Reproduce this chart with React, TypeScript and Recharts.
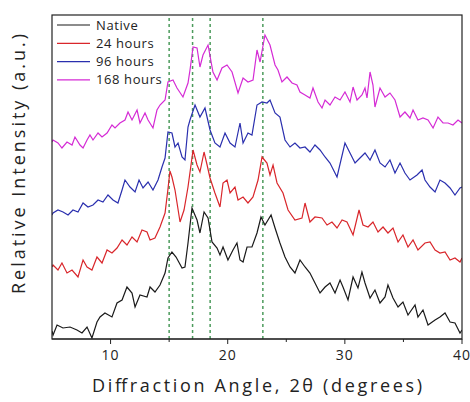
import React from "react";
import { LineChart, Line, XAxis, YAxis, ReferenceLine, Legend } from "recharts";

// [2θ (degrees), relative intensity (a.u., stacked)]
const native: number[][] = [
  [5.0, 8], [5.09, 4], [5.43, 14], [5.94, 11], [6.54, 12], [7.13, 9], [7.56, 6], [7.99, 12], [8.41, 1], [8.84, 17],
  [9.1, 22], [9.52, 26], [10.12, 22], [10.55, 36], [10.98, 39], [11.4, 52], [11.83, 46], [12.09, 32], [12.51, 44],
  [13.11, 42], [13.37, 52], [13.79, 47], [14.22, 54], [14.65, 66], [14.9, 81], [15.24, 87], [15.59, 82], [16.1, 71],
  [16.35, 72], [16.61, 96], [16.95, 131], [17.38, 119], [17.63, 106], [17.98, 127], [18.32, 121], [18.66, 97],
  [19.09, 91], [19.34, 84], [19.6, 92], [20.02, 79], [20.45, 89], [20.79, 96], [21.05, 79], [21.31, 77], [21.65, 92],
  [22.07, 92], [22.5, 106], [22.84, 122], [23.18, 114], [23.7, 124], [24.04, 111], [24.46, 96], [24.89, 82],
  [25.32, 72], [25.74, 66], [26.17, 79], [26.6, 72], [27.02, 66], [27.45, 56], [27.88, 46], [28.31, 52], [28.73, 56],
  [29.16, 46], [29.59, 59], [29.84, 52], [30.27, 39], [30.7, 62], [31.12, 51], [31.46, 67], [31.72, 56], [32.15, 41],
  [32.57, 49], [33.0, 36], [33.43, 42], [33.68, 54], [34.11, 41], [34.54, 32], [34.96, 37], [35.39, 24], [35.99, 34],
  [36.24, 22], [36.67, 29], [37.1, 14], [37.7, 19], [38.12, 22], [38.55, 26], [38.98, 17], [39.4, 16], [39.83, 6],
  [40.0, 9],
];

const hours24: number[][] = [
  [5.0, 72], [5.09, 74], [5.51, 69], [5.85, 76], [6.28, 66], [6.71, 69], [7.22, 62], [7.65, 79], [7.99, 72], [8.41, 69],
  [8.84, 82], [9.27, 76], [9.7, 89], [10.12, 86], [10.55, 91], [10.98, 99], [11.4, 94], [11.83, 102], [12.26, 97],
  [12.68, 109], [13.11, 107], [13.37, 99], [13.79, 101], [14.22, 112], [14.65, 126], [14.9, 150], [15.07, 168],
  [15.24, 162], [15.5, 149], [15.93, 117], [16.27, 129], [16.61, 152], [17.04, 189], [17.38, 174], [17.63, 167],
  [17.98, 187], [18.24, 174], [18.49, 161], [18.91, 146], [19.34, 132], [19.6, 156], [19.94, 159], [20.2, 146],
  [20.62, 152], [20.88, 139], [21.31, 142], [21.73, 136], [22.16, 142], [22.59, 159], [22.93, 182], [23.35, 176],
  [23.61, 164], [23.87, 174], [24.21, 156], [24.72, 146], [25.15, 129], [25.74, 119], [26.34, 121], [26.6, 136],
  [27.02, 117], [27.45, 122], [28.05, 121], [28.48, 114], [28.9, 117], [29.33, 111], [29.76, 119], [30.18, 117],
  [30.7, 104], [31.21, 129], [31.55, 114], [31.98, 112], [32.4, 117], [32.83, 107], [33.26, 112], [33.68, 106],
  [34.11, 111], [34.54, 97], [34.96, 104], [35.39, 92], [35.82, 99], [36.24, 89], [36.84, 96], [37.27, 97],
  [37.7, 89], [38.12, 86], [38.55, 87], [38.98, 79], [39.4, 81], [39.83, 77], [40.0, 81],
];

const hours96: number[][] = [
  [5.0, 124], [5.09, 126], [5.51, 129], [5.94, 127], [6.37, 124], [6.79, 129], [7.22, 127], [7.65, 136], [8.07, 132],
  [8.5, 134], [8.93, 139], [9.35, 137], [9.78, 144], [10.21, 139], [10.63, 136], [10.98, 149], [11.23, 159],
  [11.66, 152], [12.09, 147], [12.43, 159], [12.77, 151], [13.2, 157], [13.62, 149], [14.05, 159], [14.39, 172],
  [14.65, 181], [14.9, 207], [15.24, 206], [15.5, 192], [15.76, 196], [16.1, 182], [16.35, 179], [16.61, 212],
  [16.78, 219], [17.21, 234], [17.63, 222], [18.06, 231], [18.49, 209], [18.91, 196], [19.34, 192], [19.77, 206],
  [20.2, 196], [20.62, 192], [21.05, 216], [21.31, 196], [21.73, 206], [22.07, 204], [22.5, 234], [22.93, 237],
  [23.35, 236], [23.61, 239], [24.04, 226], [24.46, 222], [24.89, 199], [25.32, 192], [25.74, 196], [26.17, 191],
  [26.6, 192], [27.02, 187], [27.45, 194], [27.88, 189], [28.31, 182], [28.73, 176], [29.33, 162], [30.01, 196],
  [30.44, 186], [30.87, 176], [31.29, 181], [31.72, 186], [32.15, 179], [32.57, 189], [33.0, 176], [33.43, 172],
  [33.85, 179], [34.28, 166], [34.71, 176], [35.13, 166], [35.56, 159], [36.16, 164], [36.59, 169], [36.84, 159],
  [37.27, 152], [37.7, 147], [38.12, 159], [38.55, 156], [38.98, 151], [39.4, 144], [39.83, 151], [40.0, 152],
];

const hours168: number[][] = [
  [5.0, 197], [5.09, 199], [5.51, 196], [5.85, 191], [6.28, 197], [6.71, 194], [6.96, 202], [7.39, 194], [7.65, 191],
  [7.99, 199], [8.24, 204], [8.5, 199], [8.93, 206], [9.27, 202], [9.7, 206], [10.12, 214], [10.38, 211], [10.8, 216],
  [11.23, 219], [11.49, 227], [11.83, 219], [12.26, 229], [12.51, 216], [12.94, 226], [13.2, 219], [13.62, 211],
  [13.96, 229], [14.22, 234], [14.65, 239], [14.9, 257], [15.33, 259], [15.67, 251], [16.18, 242], [16.61, 256],
  [16.78, 269], [17.04, 292], [17.38, 291], [17.63, 272], [17.89, 284], [18.32, 294], [18.74, 267], [19.09, 259],
  [19.51, 271], [19.94, 274], [20.37, 267], [20.88, 246], [21.31, 261], [21.73, 257], [22.16, 259], [22.5, 289],
  [22.76, 277], [23.18, 304], [23.61, 294], [24.04, 274], [24.29, 269], [24.63, 257], [25.06, 262], [25.49, 256],
  [25.91, 254], [26.17, 247], [26.6, 244], [27.02, 241], [27.28, 251], [27.71, 237], [28.05, 231], [28.31, 239],
  [28.73, 234], [29.16, 242], [29.59, 239], [30.01, 247], [30.44, 237], [30.7, 252], [31.04, 239], [31.46, 244],
  [31.72, 251], [31.89, 241], [32.15, 267], [32.4, 254], [32.57, 232], [33.0, 251], [33.43, 242], [33.85, 246],
  [34.28, 239], [34.71, 222], [35.13, 227], [35.56, 221], [35.82, 229], [36.24, 219], [36.67, 221], [37.1, 219],
  [37.53, 211], [37.95, 222], [38.38, 216], [38.81, 216], [39.23, 214], [39.66, 219], [40.0, 216],
];

const seriesNames = ["Native", "24 hours", "96 hours", "168 hours"];
const seriesColors = ["#1a1a1a", "#d9262b", "#2a2fae", "#d52bd5"];
const seriesValues = [native, hours24, hours96, hours168];
const peakAngles = [15, 17, 18.5, 23];
const xTicks = [10, 15, 20, 25, 30, 35, 40];
const xDomain = [5, 40];
const yDomain = [0, 324];

const FONT = "'Open Sans', 'DejaVu Sans', sans-serif";
const CHART_W = 470;
const CHART_H = 402;
const MARGIN = { top: 15, right: 8, bottom: 33, left: 52 };
const X_AXIS_H = 30;

const toRows = (pts: number[][]) => pts.map(([x, y]) => ({ x, y }));

const AxisTick = (props: any) => {
  const { x, y, payload } = props;
  const major = payload.value % 10 === 0;
  return (
    <g>
      <line x1={x} x2={x} y1={y} y2={y + (major ? 5 : 3)} stroke="#222" strokeWidth={1} />
      {major && (
        <text x={x} y={y + 21} textAnchor="middle" fontSize={14} fontFamily={FONT} fill="#222" letterSpacing={1}>
          {payload.value}
        </text>
      )}
    </g>
  );
};

const LegendBox = () => (
  <svg width={130} height={80}>
    {seriesNames.map((name, i) => {
      const cy = 11 + i * 18.3;
      return (
        <g key={name}>
          <line x1={7} x2={40} y1={cy} y2={cy} stroke={seriesColors[i]} strokeWidth={1.2} />
          <text x={46} y={cy + 4.5} fontSize={13} fontFamily={FONT} fill="#222" letterSpacing={0.6}>
            {name}
          </text>
        </g>
      );
    })}
  </svg>
);

export default function App() {
  const plotW = CHART_W - MARGIN.left - MARGIN.right;
  const plotH = CHART_H - MARGIN.top - MARGIN.bottom - X_AXIS_H;
  return (
    <div style={{ position: "absolute", left: 0, top: 0, width: CHART_W, height: CHART_H, background: "#fff" }}>
      <LineChart width={CHART_W} height={CHART_H} margin={MARGIN}>
        <XAxis
          dataKey="x"
          type="number"
          domain={xDomain}
          ticks={xTicks}
          allowDataOverflow
          axisLine={{ stroke: "#222", strokeWidth: 1.2 }}
          tickLine={false}
          tickSize={0}
          tickMargin={0}
          height={X_AXIS_H}
          tick={<AxisTick />}
          interval={0}
          label={(p: any) => {
            const vb = p.viewBox;
            return (
              <text
                x={vb.x + vb.width / 2}
                y={vb.y + 53}
                textAnchor="middle"
                fontSize={18}
                fontFamily={FONT}
                fill="#222"
                textLength={330}
                lengthAdjust="spacing"
              >
                Diffraction Angle, 2θ (degrees)
              </text>
            );
          }}
        />
        <YAxis type="number" domain={yDomain} allowDataOverflow hide />
        {peakAngles.map((a) => (
          <ReferenceLine key={a} x={a} stroke="#4c9b5c" strokeWidth={1.5} strokeDasharray="3 3" />
        ))}
        {seriesValues.map((vals, i) => (
          <Line
            key={seriesNames[i]}
            data={toRows(vals)}
            dataKey="y"
            name={seriesNames[i]}
            stroke={seriesColors[i]}
            strokeWidth={1.2}
            dot={false}
            isAnimationActive={false}
            type="linear"
          />
        ))}
        <Legend
          layout="horizontal"
          align="center"
          verticalAlign="middle"
          content={<LegendBox />}
          wrapperStyle={{ position: "absolute", left: 50, top: 14, width: 130, height: 80 }}
        />
      </LineChart>
      <svg
        width={CHART_W}
        height={CHART_H}
        style={{ position: "absolute", left: 0, top: 0, pointerEvents: "none" }}
      >
        <rect x={MARGIN.left} y={MARGIN.top} width={plotW} height={plotH} fill="none" stroke="#222" strokeWidth={1.2} />
        <text
          transform="translate(25,164) rotate(-90)"
          textAnchor="middle"
          fontSize={18}
          fontFamily={FONT}
          fill="#222"
          textLength={260}
          lengthAdjust="spacing"
        >
          Relative Intensity (a.u.)
        </text>
      </svg>
    </div>
  );
}
